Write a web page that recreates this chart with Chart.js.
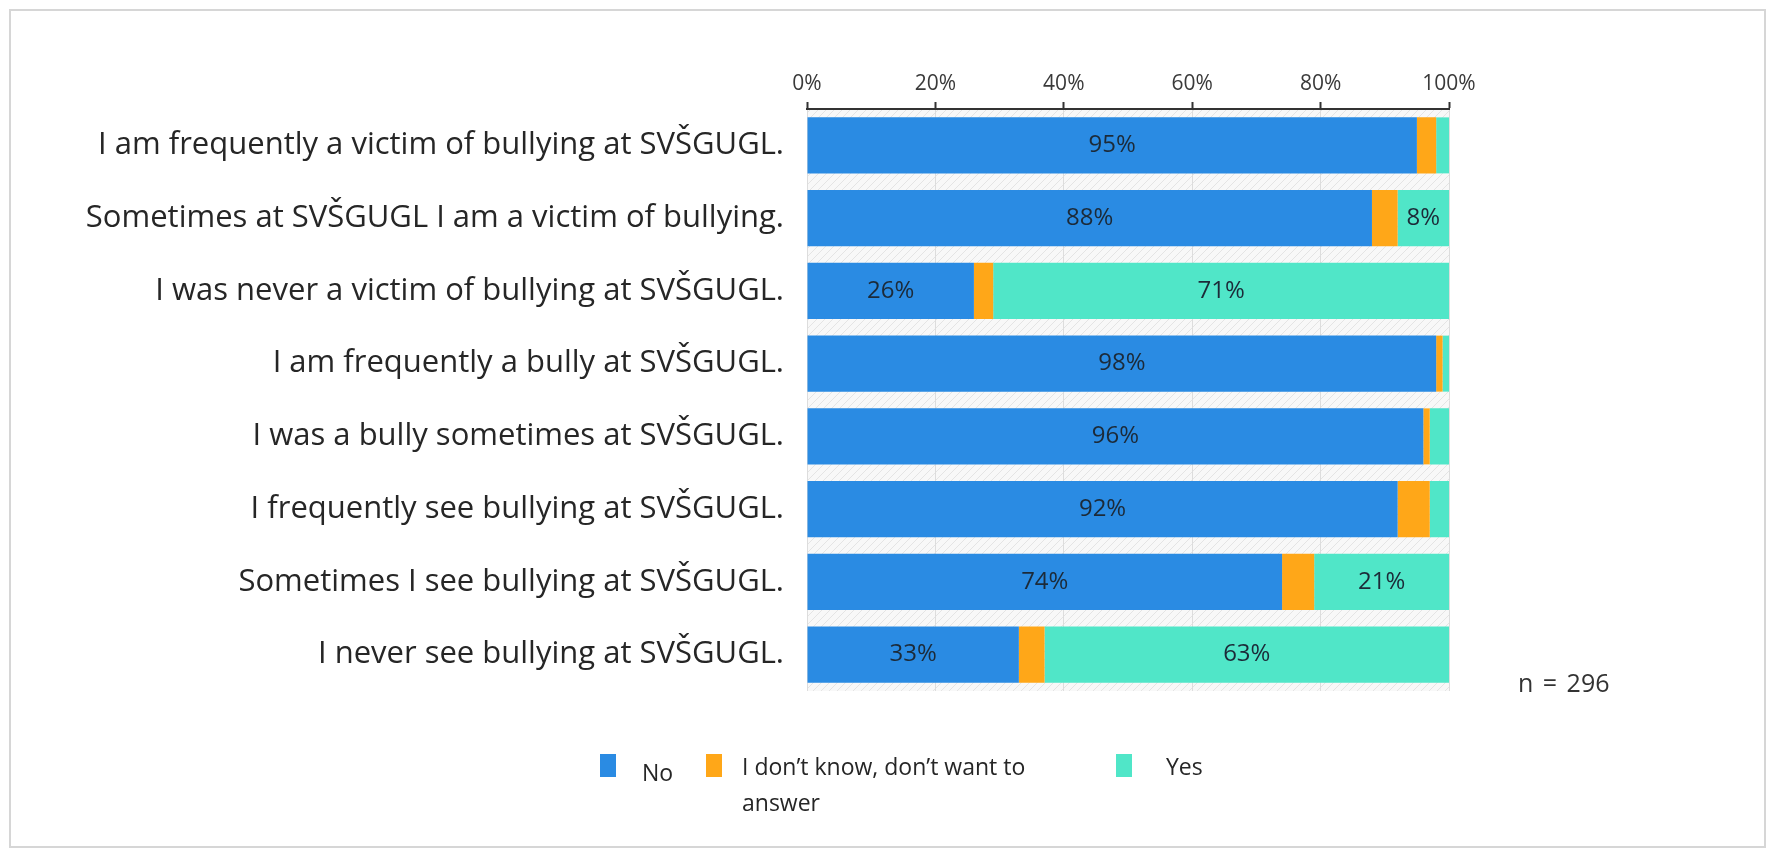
<!DOCTYPE html>
<html>
<head>
<meta charset="utf-8">
<script src="https://cdn.jsdelivr.net/npm/chart.js@4"></script>
<style>
    html, body { margin: 0; padding: 0; background: #fff; }
    #wrap { position: relative; width: 1777px; height: 853px; overflow: hidden; font-family: "Open Sans", sans-serif; }
    #frame { position: absolute; left: 9px; top: 9px; width: 1757px; height: 839px; border: 2px solid #d6d6d6; box-sizing: border-box; }
    #chart-box { position: absolute; left: 0; top: 0; width: 1777px; height: 853px; }
    #n-label { position: absolute; left: 1518px; top: 665px; font-size: 25px; color: #333; word-spacing: 3px; }
    #legend { position: absolute; left: 600px; top: 748px; display: flex; color: #262626; font-size: 23px; line-height: 36px; }
    #legend .item { display: flex; align-items: flex-start; }
    #legend .sw { width: 16px; height: 23px; margin-top: 6px; flex: none; }
</style>
</head>
<body>
<div id="wrap">
    <div id="frame"></div>
    <div id="chart-box"><canvas id="bullyChart"></canvas></div>
    <div id="n-label">n = 296</div>
    <div id="legend"></div>
</div>
<script>
// Statements (categories)
const categories = [
    'I am frequently a victim of bullying at SVŠGUGL.',
    'Sometimes at SVŠGUGL I am a victim of bullying.',
    'I was never a victim of bullying at SVŠGUGL.',
    'I am frequently a bully at SVŠGUGL.',
    'I was a bully sometimes at SVŠGUGL.',
    'I frequently see bullying at SVŠGUGL.',
    'Sometimes I see bullying at SVŠGUGL.',
    'I never see bullying at SVŠGUGL.'
];

// Shares in percent
const noValues = [95, 88, 26, 98, 96, 92, 74, 33];
const dontKnowValues = [3, 4, 3, 1, 1, 5, 5, 4];
const yesValues = [2, 8, 71, 1, 3, 3, 21, 63];

const seriesLabels = ['No', 'I don\u2019t know, don\u2019t want to answer', 'Yes'];
const seriesColors = ['#2a8be3', '#ffa718', '#50e6c8'];

const tickValues = [0, 20, 40, 60, 80, 100];

// fond hachuré de la zone de tracé
function makeHatch() {
    const c = document.createElement('canvas');
    c.width = 8;
    c.height = 8;
    const g = c.getContext('2d');
    g.fillStyle = '#f8f8f8';
    g.fillRect(0, 0, 8, 8);
    g.strokeStyle = '#e4e4e4';
    g.lineWidth = 1;
    g.beginPath();
    g.moveTo(0, 8);
    g.lineTo(8, 0);
    g.stroke();
    return c;
}

const hatchBackground = {
    id: 'hatchBackground',
    beforeDraw(chart) {
        const { ctx, chartArea } = chart;
        ctx.save();
        ctx.fillStyle = ctx.createPattern(makeHatch(), 'repeat');
        ctx.fillRect(chartArea.left, chartArea.top, chartArea.right - chartArea.left, chartArea.bottom - chartArea.top);
        ctx.restore();
    }
};

// étiquettes de valeur au centre des segments
const segmentLabels = {
    id: 'segmentLabels',
    afterDatasetsDraw(chart) {
        const { ctx } = chart;
        ctx.save();
        ctx.font = '24px "Open Sans", sans-serif';
        ctx.fillStyle = '#1c2a38';
        ctx.textAlign = 'center';
        ctx.textBaseline = 'middle';
        chart.data.datasets.forEach((ds, di) => {
            const meta = chart.getDatasetMeta(di);
            meta.data.forEach((bar, i) => {
                const v = ds.data[i];
                if (v < 8) return;
                const cx = (bar.x + bar.base) / 2;
                ctx.fillText(v + '%', cx, bar.y);
            });
        });
        ctx.restore();
    }
};

const datasets = [noValues, dontKnowValues, yesValues].map((values, i) => ({
    label: seriesLabels[i],
    data: values,
    backgroundColor: seriesColors[i],
    borderWidth: 0,
    categoryPercentage: 1,
    barPercentage: 0.77
}));

const bullyChart = new Chart(document.getElementById('bullyChart'), {
    type: 'bar',
    data: { labels: categories, datasets: datasets },
    options: {
        indexAxis: 'y',
        responsive: true,
        maintainAspectRatio: false,
        devicePixelRatio: 1,
        animation: false,
        layout: { padding: { left: 0, top: 0, right: 328, bottom: 162 } },
        plugins: {
            legend: { display: false },
            tooltip: { enabled: false }
        },
        scales: {
            x: {
                position: 'top',
                stacked: true,
                min: 0,
                max: 100,
                afterBuildTicks: (scale) => {
                    scale.ticks = tickValues.map((v) => ({ value: v }));
                },
                afterFit: (scale) => { scale.height = 109; },
                ticks: {
                    callback: (v) => v + '%',
                    font: { family: 'Open Sans', size: 21 },
                    color: '#3a3a3a',
                    padding: 5
                },
                grid: {
                    color: '#dddddd',
                    lineWidth: 1,
                    tickLength: 7,
                    tickColor: '#333333',
                    tickWidth: 2
                },
                border: { display: true, color: '#333333', width: 2 }
            },
            y: {
                stacked: true,
                afterFit: (scale) => { scale.width = 807; },
                ticks: {
                    font: { family: 'Open Sans', size: 31 },
                    color: '#262626',
                    padding: 23
                },
                grid: { display: false, drawTicks: false },
                border: { display: false }
            }
        }
    },
    plugins: [hatchBackground, segmentLabels]
});

// légende HTML construite à partir des séries
const legendWidths = [106, 410, 160];
const legendGaps = [26, 20, 34];
const legendEl = document.getElementById('legend');
seriesLabels.forEach((label, i) => {
    const item = document.createElement('div');
    item.className = 'item';
    item.style.width = legendWidths[i] + 'px';
    const sw = document.createElement('div');
    sw.className = 'sw';
    sw.style.background = seriesColors[i];
    const txt = document.createElement('div');
    txt.style.marginLeft = legendGaps[i] + 'px';
    txt.textContent = label;
    if (i === 1) txt.style.width = '320px';
    if (i === 0) txt.style.marginTop = '6px';
    item.appendChild(sw);
    item.appendChild(txt);
    legendEl.appendChild(item);
});
</script>
</body>
</html>
